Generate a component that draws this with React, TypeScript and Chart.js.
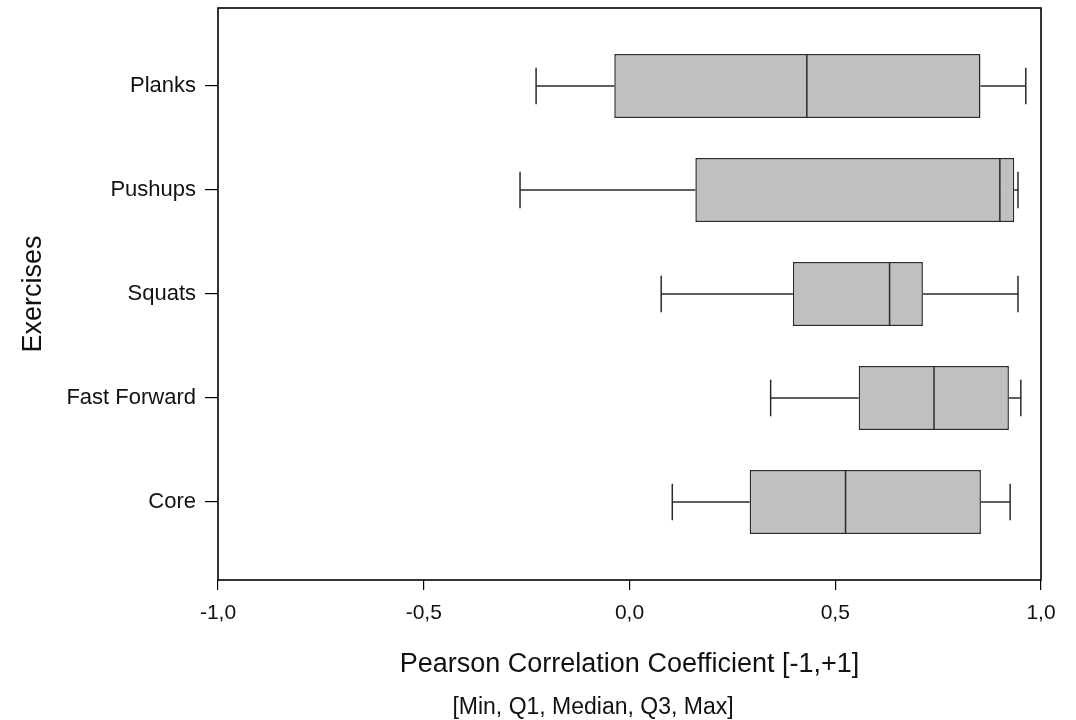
import React, { useEffect, useRef } from "react";
import { Chart, registerables } from "chart.js";

Chart.register(...registerables);

const categories = ["Planks", "Pushups", "Squats", "Fast Forward", "Core"];
const minValues = [-0.227, -0.266, 0.077, 0.343, 0.104];
const q1Values = [-0.037, 0.16, 0.397, 0.557, 0.292];
const medianValues = [0.431, 0.9, 0.632, 0.74, 0.525];
const q3Values = [0.853, 0.935, 0.713, 0.922, 0.854];
const maxValues = [0.963, 0.944, 0.944, 0.951, 0.925];
const xTickValues = [-1, -0.5, 0, 0.5, 1];

const FONT = "'Liberation Sans', Arial, sans-serif";

const boxPlugin = {
  id: "boxExtras",
  afterDatasetsDraw(chart: any) {
    const { ctx, scales, chartArea } = chart;
    const xs = scales.x;
    const ys = scales.y;
    const meta = chart.getDatasetMeta(0);
    ctx.save();
    ctx.strokeStyle = "#2b2b2b";
    ctx.lineWidth = 1.5;
    categories.forEach((_, i) => {
      const y = ys.getPixelForValue(i);
      const bar = meta.data[i];
      const half = bar ? bar.height / 2 : 30;
      const capTop = ys.getPixelForValue(i - 0.175);
      const capBot = ys.getPixelForValue(i + 0.175);
      const xMin = xs.getPixelForValue(minValues[i]);
      const xQ1 = xs.getPixelForValue(q1Values[i]);
      const xMed = xs.getPixelForValue(medianValues[i]);
      const xQ3 = xs.getPixelForValue(q3Values[i]);
      const xMax = xs.getPixelForValue(maxValues[i]);
      ctx.beginPath();
      ctx.moveTo(xMin, y);
      ctx.lineTo(xQ1, y);
      ctx.moveTo(xQ3, y);
      ctx.lineTo(xMax, y);
      ctx.moveTo(xMin, capTop);
      ctx.lineTo(xMin, capBot);
      ctx.moveTo(xMax, capTop);
      ctx.lineTo(xMax, capBot);
      ctx.moveTo(xMed, y - half);
      ctx.lineTo(xMed, y + half);
      ctx.stroke();
    });
    ctx.strokeStyle = "#000";
    ctx.lineWidth = 1.6;
    ctx.strokeRect(
      chartArea.left,
      chartArea.top,
      chartArea.right - chartArea.left,
      chartArea.bottom - chartArea.top
    );
    ctx.restore();
  },
  afterDraw(chart: any) {
    const { ctx } = chart;
    ctx.save();
    ctx.fillStyle = "#111";
    ctx.font = `23px ${FONT}`;
    ctx.textAlign = "center";
    ctx.textBaseline = "middle";
    ctx.fillText("[Min, Q1, Median, Q3, Max]", 593, 708);
    ctx.restore();
  },
};

export default function App() {
  const canvasRef = useRef<HTMLCanvasElement | null>(null);

  useEffect(() => {
    if (!canvasRef.current) return;
    const chart = new Chart(canvasRef.current, {
      type: "bar",
      data: {
        datasets: [
          {
            label: "IQR",
            data: q1Values.map((q, i) => ({ x: [q, q3Values[i]], y: i })) as any,
            backgroundColor: "#c0c0c0",
            borderColor: "#2b2b2b",
            borderWidth: 1.5,
            borderSkipped: false,
            barPercentage: 0.615,
            categoryPercentage: 1,
          },
        ],
      },
      options: {
        indexAxis: "y",
        animation: false,
        responsive: false,
        maintainAspectRatio: false,
        layout: { padding: { top: 8, right: 35, bottom: 0, left: 0 } },
        plugins: {
          legend: { display: false },
          tooltip: { enabled: false },
        },
        scales: {
          x: {
            type: "linear",
            min: -1,
            max: 1,
            offset: false,
            border: { display: false },
            afterBuildTicks: (scale: any) => {
              scale.ticks = xTickValues.map((v) => ({ value: v }));
            },
            afterFit: (scale: any) => {
              scale.height = 140;
              scale.paddingLeft = 0;
              scale.paddingRight = 0;
            },
            grid: {
              offset: false,
              drawOnChartArea: false,
              drawTicks: true,
              tickLength: 10,
              color: "#000",
              lineWidth: 1.2,
            },
            ticks: {
              color: "#111",
              padding: 11,
              font: { family: FONT, size: 21 },
              callback: (v: any) => Number(v).toFixed(1).replace(".", ","),
            },
            title: {
              display: true,
              text: "Pearson Correlation Coefficient [-1,+1]",
              color: "#111",
              font: { family: FONT, size: 27 },
              padding: { top: 0, bottom: 39 },
            },
          },
          y: {
            type: "linear",
            min: -0.75,
            max: 4.75,
            reverse: true,
            offset: false,
            border: { display: false },
            afterBuildTicks: (scale: any) => {
              scale.ticks = categories.map((_, i) => ({ value: i }));
            },
            afterFit: (scale: any) => {
              scale.width = 218;
              scale.paddingTop = 0;
              scale.paddingBottom = 0;
            },
            grid: {
              offset: false,
              drawOnChartArea: false,
              drawTicks: true,
              tickLength: 13,
              color: "#000",
              lineWidth: 1.2,
            },
            ticks: {
              color: "#111",
              padding: 9,
              font: { family: FONT, size: 22 },
              callback: (v: any) => categories[Number(v)] ?? "",
            },
            title: {
              display: true,
              text: "Exercises",
              color: "#111",
              font: { family: FONT, size: 27 },
              padding: { top: 17, bottom: 0 },
            },
          },
        },
      },
      plugins: [boxPlugin],
    });
    return () => chart.destroy();
  }, []);

  return (
    <div style={{ position: "absolute", left: 0, top: 0, width: 1076, height: 720, background: "#fff" }}>
      <canvas ref={canvasRef} width={1076} height={720} style={{ display: "block" }} />
    </div>
  );
}
